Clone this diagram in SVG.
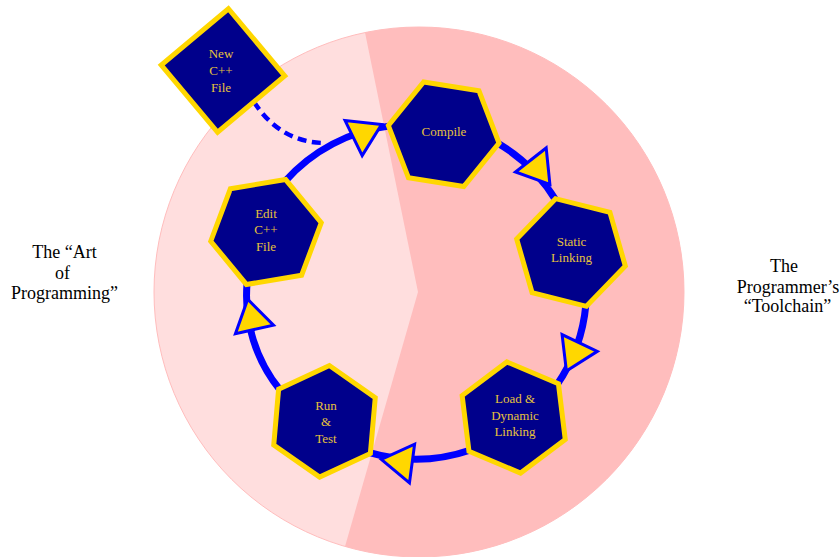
<svg xmlns="http://www.w3.org/2000/svg" xmlns:xlink="http://www.w3.org/1999/xlink" width="840" height="557" viewBox="0 0 840 557">
  <style>
    .hex { fill: #00008B; stroke: #FFD700; stroke-width: 5; stroke-linejoin: miter; }
    .lbl { font-family: "Liberation Serif", "Times New Roman", serif; font-size: 13px; fill: #E6C23C; text-anchor: middle; }
    .side { font-family: "Liberation Serif", "Times New Roman", serif; font-size: 18px; fill: #000000; text-anchor: middle; }
    .flow { fill: none; stroke: #0000FF; stroke-width: 7; }
    .dash { fill: none; stroke: #0000FF; stroke-width: 4.5; stroke-dasharray: 9 5.5; }
    .arrow { fill: #FFD700; stroke: #0000FF; stroke-width: 3; stroke-linejoin: miter; }
  </style>
  <defs>
    <!-- flat hexagon, circumradius 56 -->
    <polygon id="hexShape" points="56,0 28,48.5 -28,48.5 -56,0 -28,-48.5 28,-48.5"/>
    <!-- square standing on a corner, circumradius 62 -->
    <polygon id="squareShape" points="62,0 0,62 -62,0 0,-62"/>
    <!-- arrowhead pointing along +x, tip at origin -->
    <polygon id="arrowHead" points="0,0 -31,-19.5 -31,19.5"/>
  </defs>

  <!-- background disc: light left half, darker right half -->
  <g id="background">
    <circle cx="419" cy="292" r="265" fill="#FFDEDE" stroke="#FFBDBD" stroke-width="1"/>
    <path d="M365,32.6 L418,292 L345,546.5 A265,265 0 1,0 365,32.6 Z" fill="#FFBDBD"/>
  </g>

  <!-- side captions -->
  <g id="art-label">
    <text class="side" x="64.5" y="257.5">The “Art</text>
    <text class="side" x="62.5" y="279">of</text>
    <text class="side" x="64.5" y="298.5">Programming”</text>
  </g>
  <g id="toolchain-label">
    <text class="side" x="784" y="271.5">The</text>
    <text class="side" x="788" y="292.5">Programmer’s</text>
    <text class="side" x="787.5" y="311.5">“Toolchain”</text>
  </g>

  <!-- connectors -->
  <g id="connectors">
    <path class="dash" d="M254,102 Q280,142 324,143"/>
    <path class="flow" d="M285,181.4 A168,168 0 0,1 390.4,125.9"/>
    <path class="flow" d="M497,142.7 A168,168 0 0,1 556.1,200.6"/>
    <path class="flow" d="M585.9,304.4 A168,168 0 0,1 556.8,385"/>
    <path class="flow" d="M470.6,450 A168,168 0 0,1 368.7,452.3"/>
    <path class="flow" d="M280.3,390.3 A150,150 0 0,1 247.1,282.6"/>
    <use class="arrow" xlink:href="#arrowHead" transform="translate(381.5,124.5) rotate(-26)"/>
    <use class="arrow" xlink:href="#arrowHead" transform="translate(549.9,184.4) rotate(52)"/>
    <use class="arrow" xlink:href="#arrowHead" transform="translate(566.4,371) rotate(115.4)"/>
    <use class="arrow" xlink:href="#arrowHead" transform="translate(381.3,459.4) rotate(187.6)"/>
    <use class="arrow" xlink:href="#arrowHead" transform="translate(247.7,299.2) rotate(-102.6)"/>
  </g>

  <!-- nodes -->
  <g id="new-file">
    <use class="hex" xlink:href="#squareShape" transform="translate(223,70.5) rotate(5)"/>
    <text class="lbl" x="221" y="58.3">New</text>
    <text class="lbl" x="221" y="75">C++</text>
    <text class="lbl" x="221" y="91.7">File</text>
  </g>
  <g id="compile">
    <use class="hex" xlink:href="#hexShape" transform="translate(443.7,134.3) rotate(9)"/>
    <text class="lbl" x="444" y="136">Compile</text>
  </g>
  <g id="static-linking">
    <use class="hex" xlink:href="#hexShape" transform="translate(571,252.5) rotate(14)"/>
    <text class="lbl" x="571.5" y="246">Static</text>
    <text class="lbl" x="571.5" y="262">Linking</text>
  </g>
  <g id="dynamic-linking">
    <use class="hex" xlink:href="#hexShape" transform="translate(513.7,417.5) rotate(23)"/>
    <text class="lbl" x="515" y="403.3">Load &amp;</text>
    <text class="lbl" x="515" y="419.5">Dynamic</text>
    <text class="lbl" x="515" y="435.5">Linking</text>
  </g>
  <g id="run-test">
    <use class="hex" xlink:href="#hexShape" transform="translate(324.5,421.3) rotate(35)"/>
    <text class="lbl" x="326" y="410">Run</text>
    <text class="lbl" x="326" y="426.3">&amp;</text>
    <text class="lbl" x="326" y="442.6">Test</text>
  </g>
  <g id="edit-file">
    <use class="hex" xlink:href="#hexShape" transform="translate(266,232) rotate(50.5)"/>
    <text class="lbl" x="266" y="217.7">Edit</text>
    <text class="lbl" x="266" y="234.3">C++</text>
    <text class="lbl" x="266" y="251">File</text>
  </g>
</svg>
